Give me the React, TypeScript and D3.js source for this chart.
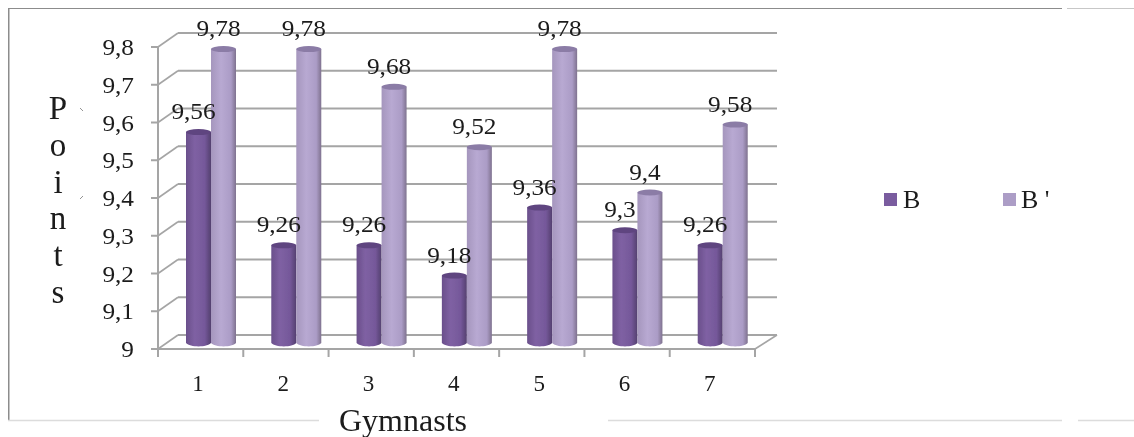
import React from "react";
import * as d3 from "d3";

const categories = ["1", "2", "3", "4", "5", "6", "7"];
const seriesB = [9.56, 9.26, 9.26, 9.18, 9.36, 9.3, 9.26];
const seriesBPrime = [9.78, 9.78, 9.68, 9.52, 9.78, 9.4, 9.58];
const labelsB = ["9,56", "9,26", "9,26", "9,18", "9,36", "9,3", "9,26"];
const labelsBPrime = ["9,78", "9,78", "9,68", "9,52", "9,78", "9,4", "9,58"];
const yTicks = [9, 9.1, 9.2, 9.3, 9.4, 9.5, 9.6, 9.7, 9.8];
const yTickLabels = ["9", "9,1", "9,2", "9,3", "9,4", "9,5", "9,6", "9,7", "9,8"];
const yTitle = ["P", "o", "i", "n", "t", "s"];
const xTitle = "Gymnasts";
const seriesNames = ["B", "B '"];

const FONT = "'Liberation Serif', 'Times New Roman', serif";
const GRID = "#a5a5a5";
const DX = 20;
const DY = -14;
const left = 158;
const right = 755;

const y = d3.scaleLinear().domain([9, 9.8]).range([349, 47]);
const x = d3.scaleBand<string>().domain(categories).range([left, right]);
const inner = d3.scaleBand<string>().domain(["B", "P"]).range([28, 78]);
const barY = (v: number) => y(v) - 5.5;

function Bar({ cx0, w, value, id, top }: { cx0: number; w: number; value: number; id: string; top: string }) {
  const yt = barY(value);
  const yb = barY(9) - 0.5;
  const rx = w / 2;
  const ry = 3;
  const d = d3.path();
  d.moveTo(cx0, yt);
  d.lineTo(cx0, yb);
  d.bezierCurveTo(cx0 + 4, yb + 4.5, cx0 + w - 4, yb + 4.5, cx0 + w, yb);
  d.lineTo(cx0 + w, yt);
  d.closePath();
  return (
    <g>
      <path d={d.toString()} fill={`url(#${id})`} />
      <ellipse cx={cx0 + rx} cy={yt} rx={rx} ry={ry} fill={top} />
    </g>
  );
}

function T({ x: tx, y: ty, size, sx = 1, anchor = "middle", children }: any) {
  return (
    <text
      transform={`translate(${tx},${ty}) scale(${sx},1)`}
      fontFamily={FONT}
      fontSize={size}
      textAnchor={anchor}
      fill="#1a1a1a"
    >
      {children}
    </text>
  );
}

export default function App() {
  const w = inner.bandwidth();
  return (
    <svg
      width={1134}
      height={437}
      style={{ position: "absolute", left: 0, top: 0, background: "#fff" }}
    >
      <defs>
        <linearGradient id="gb" x1="0" x2="1" y1="0" y2="0">
          <stop offset="0" stopColor="#6a4f8b" />
          <stop offset="0.35" stopColor="#7f61a3" />
          <stop offset="0.75" stopColor="#75589a" />
          <stop offset="1" stopColor="#54406f" />
        </linearGradient>
        <linearGradient id="gp" x1="0" x2="1" y1="0" y2="0">
          <stop offset="0" stopColor="#a596bd" />
          <stop offset="0.4" stopColor="#b8a9d2" />
          <stop offset="0.8" stopColor="#ab9cc6" />
          <stop offset="1" stopColor="#7f728f" />
        </linearGradient>
        <filter id="soft" x="0" y="0" width="100%" height="100%">
          <feGaussianBlur stdDeviation="0.35" />
        </filter>
      </defs>
      <g filter="url(#soft)">
        {/* frame */}
        <path d="M8.5,420 V8 H1062" fill="none" stroke="#8c8c8c" strokeWidth={2} />
        <path d="M1067,8 H1134" fill="none" stroke="#b5b5b5" strokeWidth={1.5} />
        <path d="M8,420.5 H319 M608,420.5 H1062 M1078,420.5 H1134" fill="none" stroke="#dcdcdc" strokeWidth={1.3} />
        <path d="M80,108 L83,111 M83,196 L80,199" fill="none" stroke="#777" strokeWidth={0.8} />

        {/* back gridlines and side diagonals */}
        {yTicks.map((t) => (
          <g key={t} stroke={GRID} fill="none">
            <line x1={left + DX} x2={right + DX + 2} y1={y(t) + DY} y2={y(t) + DY} strokeWidth={2} />
            <line x1={left} x2={left + DX} y1={y(t)} y2={y(t) + DY} strokeWidth={1.6} />
            <line x1={left - 7} x2={left} y1={y(t)} y2={y(t)} strokeWidth={2} />
          </g>
        ))}
        {/* axes */}
        <line x1={left} x2={left} y1={y(9.8)} y2={y(9) + 8} stroke={GRID} strokeWidth={2} />
        <line x1={left} x2={right} y1={y(9)} y2={y(9)} stroke={GRID} strokeWidth={2} />
        <line x1={right} x2={right + DX + 2} y1={y(9)} y2={y(9) + DY} stroke={GRID} strokeWidth={1.6} />
        {categories.map((c) => (
          <line
            key={c}
            x1={(x(c) as number) + x.bandwidth()}
            x2={(x(c) as number) + x.bandwidth()}
            y1={y(9)}
            y2={y(9) + 8}
            stroke={GRID}
            strokeWidth={2}
          />
        ))}

        {/* bars */}
        {categories.map((c, i) => {
          const x0 = x(c) as number;
          return (
            <g key={c}>
              <Bar cx0={x0 + (inner("B") as number)} w={w} value={seriesB[i]} id="gb" top="#5f4580" />
              <Bar cx0={x0 + (inner("P") as number)} w={w} value={seriesBPrime[i]} id="gp" top="#8b7ca6" />
            </g>
          );
        })}

        {/* data labels */}
        {categories.map((c, i) => {
          const x0 = x(c) as number;
          return (
            <g key={c}>
              <T x={x0 + (inner("B") as number) + w / 2 - 5} y={barY(seriesB[i]) - 13} size={23} sx={1.1}>
                {labelsB[i]}
              </T>
              <T x={x0 + (inner("P") as number) + w / 2 - 5} y={barY(seriesBPrime[i]) - 13} size={23} sx={1.1}>
                {labelsBPrime[i]}
              </T>
            </g>
          );
        })}

        {/* y tick labels */}
        {yTicks.map((t, i) => (
          <T key={t} x={134} y={y(t) + 8} size={23} sx={1.1} anchor="end">
            {yTickLabels[i]}
          </T>
        ))}

        {/* x tick labels */}
        {categories.map((c) => (
          <T key={c} x={(x(c) as number) + 40} y={391} size={23} sx={1}>
            {c}
          </T>
        ))}

        {/* y title, one letter per line */}
        {yTitle.map((ch, i) => (
          <T key={i} x={58} y={119 + i * 36.8} size={33}>
            {ch}
          </T>
        ))}
        <T x={403} y={431} size={32} sx={1}>
          {xTitle}
        </T>

        {/* legend */}
        <rect x={884} y={193} width={13} height={13} fill="#7a5c9f" />
        <T x={903} y={208} size={26} anchor="start">
          {seriesNames[0]}
        </T>
        <rect x={1003} y={193} width={13} height={13} fill="#ac9dc6" />
        <T x={1021} y={208} size={26} anchor="start">
          {seriesNames[1]}
        </T>
      </g>
    </svg>
  );
}
